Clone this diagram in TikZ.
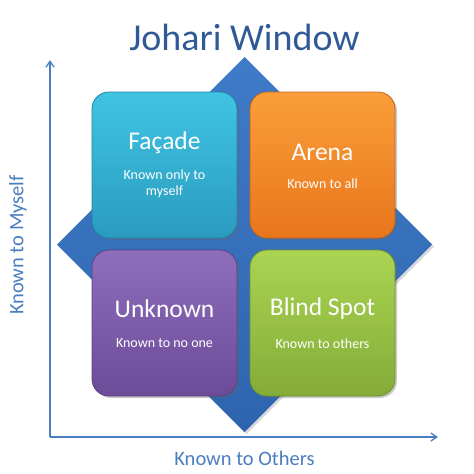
\documentclass[tikz,border=0pt]{standalone}
\usepackage{fontspec}
\setmainfont{Carlito}
\usetikzlibrary{arrows.meta,shadows}
\definecolor{titleblue}{HTML}{2F5A96}
\definecolor{axisblue}{HTML}{4A7EC0}
\definecolor{diamA}{HTML}{3F7BC8}
\definecolor{diamB}{HTML}{2E64AE}
\definecolor{cyanA}{HTML}{40C4E4}
\definecolor{cyanB}{HTML}{2A9BBE}
\definecolor{orA}{HTML}{FA9E3A}
\definecolor{orB}{HTML}{E8761C}
\definecolor{puA}{HTML}{8E6EBC}
\definecolor{puB}{HTML}{6C4C98}
\definecolor{grA}{HTML}{AAD452}
\definecolor{grB}{HTML}{84AC38}
\tikzset{
  quad/.style={rounded corners=17pt, minimum width=145pt, minimum height=146pt,
    inner sep=0pt, line width=0.8pt,
    drop shadow={shadow xshift=2pt, shadow yshift=-2pt, opacity=0.35, fill=black!60}},
  qtitle/.style={text=white, font=\fontsize{25.5}{30}\selectfont, inner sep=0pt},
  qsub/.style={text=white, font=\fontsize{14}{15.5}\selectfont, align=center, inner sep=0pt},
  axis/.style={draw=axisblue, line width=1.3pt, -{Straight Barb[length=6pt,width=8pt]}},
  axlabel/.style={text=axisblue, font=\fontsize{20.5}{24}\selectfont, inner sep=0pt}
}
\begin{document}
\begin{tikzpicture}[x=1pt,y=-1pt]
\useasboundingbox (0,0) rectangle (474,474);
% diamond
\coordinate (dt) at (244.5,57);
\coordinate (dr) at (432,244.5);
\coordinate (db) at (244.5,432);
\coordinate (dl) at (57,244.5);
\shade[top color=diamA, bottom color=diamB, drop shadow={shadow xshift=2pt, shadow yshift=-2pt, opacity=0.3}] (dt) -- (dr) -- (db) -- (dl) -- cycle;
% axes
\coordinate (origin) at (50,437);
\coordinate (ytop) at (50,60);
\coordinate (xend) at (438,437);
\draw[axis] (origin) -- (ytop);
\draw[axis] (origin) -- (xend);
% title
\node[text=titleblue, font=\fontsize{38}{44}\selectfont, inner sep=0pt] (title) at (244.5,37) {Johari Window};
% axis labels
\node[axlabel] (xlab) at (244.5,458) {Known to Others};
\node[axlabel, rotate=90] (ylab) at (18,245) {Known to Myself};
% quadrants
\node[quad, draw=cyanB!85!black, top color=cyanA, bottom color=cyanB] (facade) at (164.5,165) {};
\node[quad, draw=orB!85!black, top color=orA, bottom color=orB] (arena) at (322.5,165) {};
\node[quad, draw=puB!85!black, top color=puA, bottom color=puB] (unknown) at (164.5,323) {};
\node[quad, draw=grB!85!black, top color=grA, bottom color=grB] (blind) at (322.5,323) {};
% texts
\node[qtitle] (t1) at (164.5,143) {Façade};
\node[qsub] (s1) at (164.5,184) {Known only to\\myself};
\node[qtitle] (t2) at (322.5,152) {Arena};
\node[qsub] (s2) at (322.5,184) {Known to all};
\node[qtitle] (t3) at (164.5,309) {Unknown};
\node[qsub] (s3) at (164.5,343) {Known to no one};
\node[qtitle] (t4) at (322.5,309) {Blind Spot};
\node[qsub] (s4) at (322.5,344) {Known to others};
\end{tikzpicture}
\end{document}
